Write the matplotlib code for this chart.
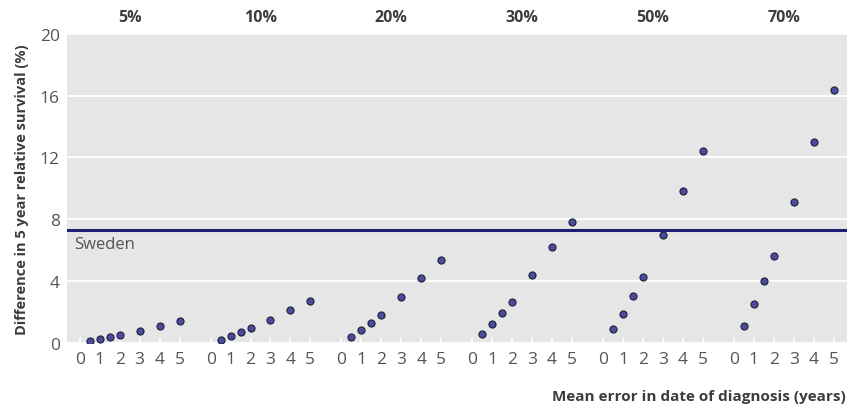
import numpy as np
import matplotlib.pyplot as plt

plt.rcParams['font.family'] = ['Open Sans', 'DejaVu Sans']

# Data
groups = ['5%', '10%', '20%', '30%', '50%', '70%']
error_years = [0.5, 1, 1.5, 2, 3, 4, 5]
diff_5 = [0.13, 0.24, 0.35, 0.50, 0.77, 1.10, 1.40]
diff_10 = [0.19, 0.41, 0.71, 0.93, 1.50, 2.15, 2.71]
diff_20 = [0.37, 0.80, 1.27, 1.79, 2.97, 4.19, 5.34]
diff_30 = [0.56, 1.19, 1.92, 2.67, 4.37, 6.19, 7.83]
diff_50 = [0.86, 1.87, 3.03, 4.26, 6.95, 9.85, 12.43]
diff_70 = [1.10, 2.50, 4.00, 5.64, 9.14, 12.99, 16.37]
sweden = 7.3
tick_vals = [0, 1, 2, 3, 4, 5]

series = [diff_5, diff_10, diff_20, diff_30, diff_50, diff_70]
gap = 6.56  # spacing between group origins in x units

fig = plt.figure(figsize=(8.47, 4.06), dpi=100)
ax = fig.add_axes([0.0787, 0.1534, 0.9213, 0.7604])
ax.set_facecolor('#e6e6e6')

xticks, xlabels = [], []
for i, (name, vals) in enumerate(zip(groups, series)):
    off = i * gap
    ax.scatter(np.array(error_years) + off, vals, s=26, color='#4b4b9c',
               edgecolor='#1e1e3c', linewidth=0.8, zorder=4)
    xticks += [t + off for t in tick_vals]
    xlabels += [str(t) for t in tick_vals]
    ax.text(off + 2.5, 1.03, name, transform=ax.get_xaxis_transform(),
            ha='center', va='bottom', fontsize=11.5, fontweight='bold', color='#3c3c3c')

ax.axhline(sweden, color='#1f1f78', lw=2.2, zorder=3)
ax.text(-0.3, sweden - 0.4, 'Sweden', ha='left', va='top', fontsize=12, color='#555555')

ax.set_xlim(-0.66, 5 * gap + 5.67)
ax.set_ylim(0, 20)
ax.set_yticks([0, 4, 8, 12, 16, 20])
ax.set_xticks(xticks)
ax.set_xticklabels(xlabels)
ax.grid(axis='y', color='white', lw=1.3)
ax.set_axisbelow(True)
for sp in ax.spines.values():
    sp.set_visible(False)
ax.tick_params(axis='y', length=0, pad=5, labelsize=12.5, labelcolor='#555555')
ax.tick_params(axis='x', direction='in', length=4, width=1.2, color='white',
               pad=6, labelsize=12.5, labelcolor='#555555')

ax.set_ylabel('Difference in 5 year relative survival (%)', fontsize=10.5,
              fontweight='bold', color='#3c3c3c', labelpad=8)
fig.text(0.999, 0.006, 'Mean error in date of diagnosis (years)', ha='right', va='bottom',
         fontsize=11, fontweight='bold', color='#3c3c3c')

fig.savefig('out.png', dpi=100)
